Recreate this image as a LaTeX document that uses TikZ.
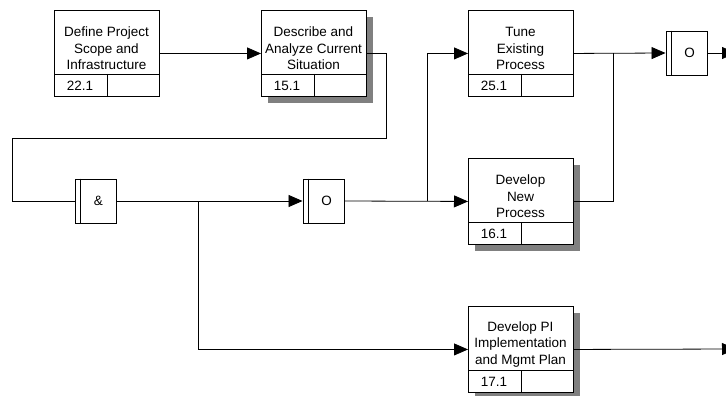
\documentclass[tikz,border=0pt]{standalone}
\usepackage{fontspec}
\setmainfont{Liberation Sans}
\usetikzlibrary{arrows.meta,shadows}

\tikzset{
  actbox/.style={draw, line width=0.9pt, fill=white, minimum width=105pt,
    minimum height=86pt, inner sep=0pt, anchor=north west},
  shadowed/.style={drop shadow={shadow xshift=6.5pt, shadow yshift=-6.5pt,
    fill=black!50, opacity=1}},
  gatebox/.style={draw, line width=0.9pt, fill=white, minimum width=41pt,
    minimum height=44pt, inner sep=0pt},
  boxtext/.style={align=center, font=\fontsize{13.5}{16.6}\selectfont, inner sep=0pt},
  rule/.style={line width=0.9pt},
  link/.style={line width=0.8pt},
  flow/.style={link, -{Triangle[length=14pt,width=12pt]}},
}

% activity box: [options] name, left, top, title, number
\newcommand\activity[6][]{%
  \node[actbox,#1] (#2) at (#3,#4) {};
  \draw[rule] (#3,#4+64) -- (#3+105,#4+64) (#3+53,#4+64) -- (#3+53,#4+86);
  \node[boxtext] (#2-t) at (#3+52.5,#4+38.5) {#5};
  \node[boxtext] (#2-n) at (#3+26,#4+76) {#6};
}

% junction box: name, centre x, centre y, symbol
\newcommand\junction[4]{%
  \node[gatebox] (#1) at (#2,#3) {};
  \draw[rule] ([xshift=6pt]#1.north west) -- ([xshift=6pt]#1.south west);
  \node[boxtext] (#1-s) at ([xshift=3pt]#1.center) {#4};
}

\begin{document}
\begin{tikzpicture}[x=1pt,y=-1pt]
  \useasboundingbox (0,0) rectangle (726,396);
  \fill[white] (0,0) rectangle (726,396);
  \clip (0,0) rectangle (726,396);

  % activities
  \activity{b1}{54}{10}{Define Project\\Scope and\\Infrastructure}{22.1}
  \activity[shadowed]{b2}{261}{10}{Describe and\\Analyze Current\\Situation}{15.1}
  \activity{b3}{468}{10}{Tune\\Existing\\Process}{25.1}
  \activity[shadowed]{b4}{468}{158}{Develop\\New\\Process}{16.1}
  \activity[shadowed]{b5}{468}{306}{Develop PI\\Implementation\\and Mgmt Plan}{17.1}

  % junctions
  \junction{g1}{95.5}{201}{\&}
  \junction{g2}{323.5}{201}{O}
  \junction{g3}{686.5}{53}{O}

  % routing points
  \coordinate (loopA) at (386,138);
  \coordinate (loopB) at (12,138);
  \coordinate (loopC) at (12,201);
  \coordinate (splitA) at (198,201);
  \coordinate (splitB) at (427,201);
  \coordinate (joinA) at (613,53);
  \coordinate (outA) at (736,53);
  \coordinate (outB) at (736,349);

  % connectors
  \draw[flow] (b1.east) -- (b2.west);
  \draw[link] (b2.east) -| (loopA) -- (loopB) -- (loopC) -- (g1.west);
  \draw[flow] (g1.east) -- (g2.west);
  \draw[flow] (splitA) |- (b5.west);
  \draw[flow] (g2.east) -- (b4.west);
  \draw[flow] (splitB) |- (b3.west);
  \draw[flow] (b3.east) -- (g3.west);
  \draw[link] (b4.east) -| (joinA);
  \draw[flow] (g3.east) -- (outA);
  \draw[flow] (b5.east) -- (outB);
\end{tikzpicture}
\end{document}
